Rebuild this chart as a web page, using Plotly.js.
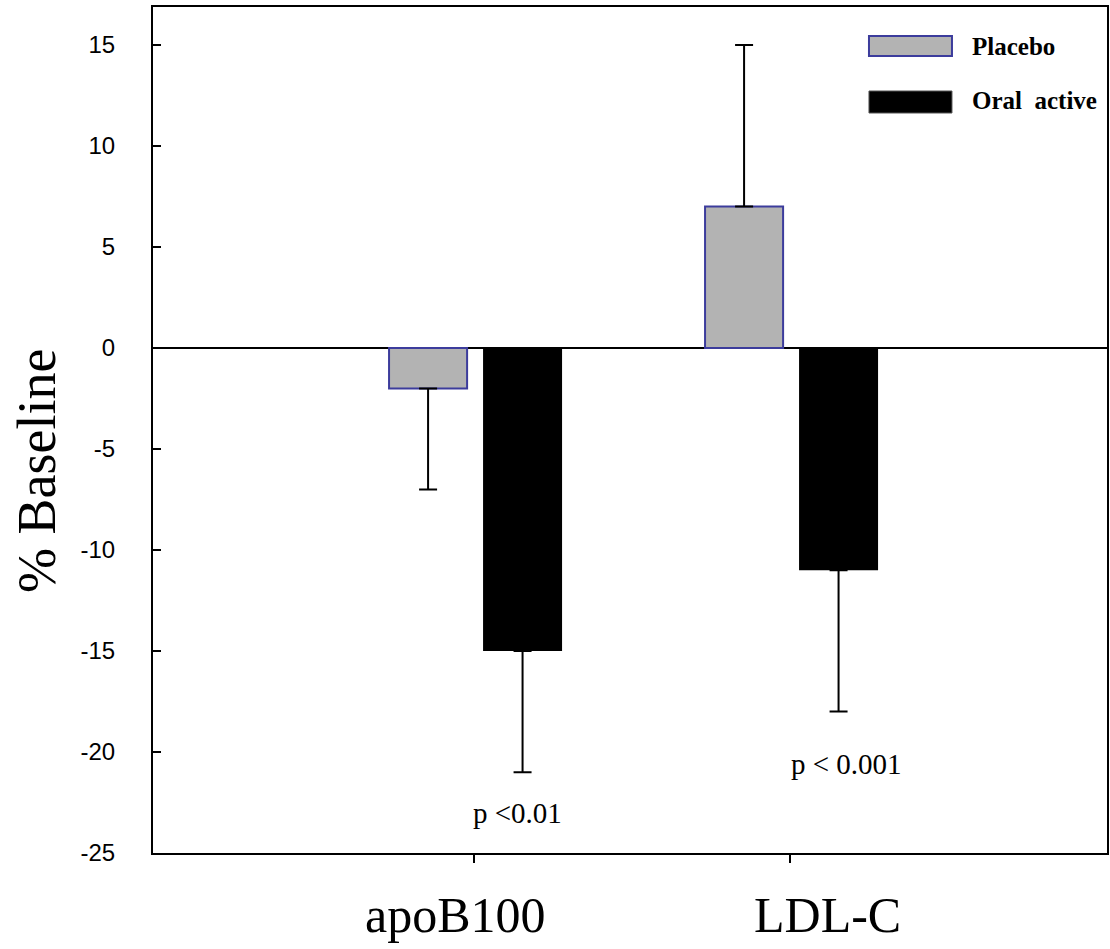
<!DOCTYPE html>
<html>
<head>
<meta charset="utf-8">
<script src="https://cdn.plot.ly/plotly-3.0.1.min.js"></script>
<style>html,body{margin:0;padding:0;background:#fff;}#chart{width:1110px;height:949px;}</style>
</head>
<body>
<div id="chart"></div>
<script>
// Data
var categories = ['apoB100', 'LDL-C'];
var placeboValues = [-2, 7];
var placeboErrPlus = [0, 8];
var placeboErrMinus = [5, 0];
var activeValues = [-15, -11];
var activeErrPlus = [0, 0];
var activeErrMinus = [6, 7];
var yTickValues = [-25, -20, -15, -10, -5, 0, 5, 10, 15];
var yTickLabels = ['-25', '-20', '-15', '-10', '-5', '0', '5', '10', '15'];
var seriesNames = ['Placebo', 'Oral  active'];
var pLabels = ['p <0.01', 'p < 0.001'];
var yTitle = '% Baseline';

var placebo = {
  type: 'bar', name: seriesNames[0], x: categories, y: placeboValues,
  offset: -0.269, width: 0.247,
  marker: {color: '#b3b3b3', line: {color: '#3c3c9c', width: 2}},
  error_y: {type: 'data', symmetric: false, array: placeboErrPlus, arrayminus: placeboErrMinus,
            color: '#000', thickness: 2, width: 9},
  showlegend: false, hoverinfo: 'y'
};
var active = {
  type: 'bar', name: seriesNames[1], x: categories, y: activeValues,
  offset: 0.0285, width: 0.25,
  marker: {color: '#000000', line: {color: '#000', width: 0}},
  error_y: {type: 'data', symmetric: false, array: activeErrPlus, arrayminus: activeErrMinus,
            color: '#000', thickness: 2, width: 9},
  showlegend: false, hoverinfo: 'y'
};

var serif = 'Liberation Serif, Times New Roman, serif';
var sans = 'Liberation Sans, Arial, sans-serif';

var layout = {
  width: 1110, height: 949,
  margin: {l: 153, r: 3, t: 7, b: 96, pad: 0},
  paper_bgcolor: '#fff', plot_bgcolor: '#fff',
  showlegend: false,
  xaxis: {
    type: 'category', range: [-1.016, 2.003],
    showline: true, linecolor: '#000', linewidth: 2, mirror: true,
    ticks: 'outside', ticklen: 8, tickwidth: 2, tickcolor: '#000',
    showgrid: false, zeroline: false,
    showticklabels: false,
    automargin: false
  },
  yaxis: {
    range: [-25, 16.88],
    tickvals: yTickValues, ticktext: yTickLabels,
    showline: true, linecolor: '#000', linewidth: 2, mirror: true,
    ticks: 'inside', ticklen: 8, tickwidth: 2, tickcolor: '#000',
    showgrid: false,
    zeroline: true, zerolinecolor: '#000', zerolinewidth: 2,
    tickfont: {family: sans, size: 24, color: '#000'},
    ticklabelstandoff: 31,
    automargin: false
  },
  shapes: [
    {type: 'rect', xref: 'paper', yref: 'paper', x0: 0.7505, x1: 0.8375, y0: 0.9421, y1: 0.9657,
     fillcolor: '#b3b3b3', line: {color: '#3c3c9c', width: 2}},
    {type: 'rect', xref: 'paper', yref: 'paper', x0: 0.7505, x1: 0.8375, y0: 0.8747, y1: 0.9007,
     fillcolor: '#000', line: {color: '#555', width: 1}}
  ],
  annotations: [
    {xref: 'paper', yref: 'paper', x: -0.1216, y: 0.4515, textangle: -90,
     xanchor: 'center', yanchor: 'middle', text: yTitle, showarrow: false,
     font: {family: serif, size: 54, color: '#000'}},
    {xref: 'x', yref: 'paper', x: -0.06, y: -0.0727, xanchor: 'center', yanchor: 'middle',
     text: categories[0], showarrow: false, font: {family: serif, size: 50, color: '#000'}},
    {xref: 'x', yref: 'paper', x: 1.12, y: -0.0727, xanchor: 'center', yanchor: 'middle',
     text: categories[1], showarrow: false, font: {family: serif, size: 50, color: '#000'}},
    {xref: 'paper', yref: 'paper', x: 0.8564, y: 0.9539, xanchor: 'left', yanchor: 'middle',
     text: '<b>' + seriesNames[0] + '</b>', showarrow: false, font: {family: serif, size: 25, color: '#000'}},
    {xref: 'paper', yref: 'paper', x: 0.8564, y: 0.8889, xanchor: 'left', yanchor: 'middle',
     text: '<b>' + seriesNames[1] + '</b>', showarrow: false, font: {family: serif, size: 25, color: '#000'}},
    {xref: 'x', yref: 'y', x: 0.136, y: -23.0, text: pLabels[0], showarrow: false,
     font: {family: serif, size: 29, color: '#000'}},
    {xref: 'x', yref: 'y', x: 1.18, y: -20.6, text: pLabels[1], showarrow: false,
     font: {family: serif, size: 29, color: '#000'}}
  ]
};

Plotly.newPlot('chart', [placebo, active], layout, {displayModeBar: false, staticPlot: true});
</script>
</body>
</html>
